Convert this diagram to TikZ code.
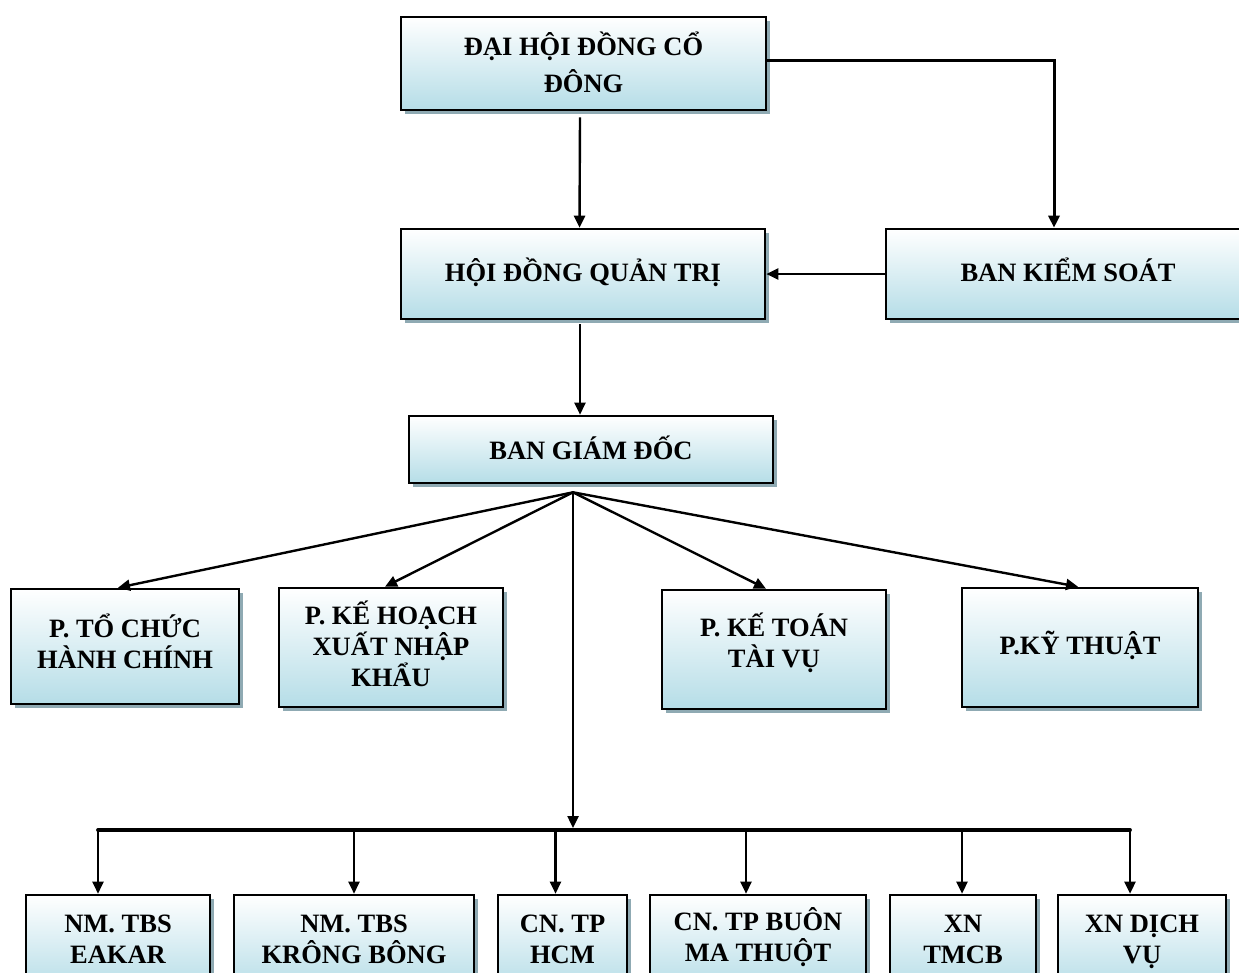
\documentclass[tikz,border=0pt]{standalone}
\usepackage{fontspec}
\setmainfont{Liberation Serif}
\usetikzlibrary{arrows.meta,shadows}
\definecolor{boxblue}{RGB}{181,221,231}
\definecolor{shadowgray}{RGB}{143,170,179}
\newcommand\lowstrut[1]{\rule{0pt}{#1pt}}
\begin{document}
\begin{tikzpicture}[x=1pt,y=-1pt,
    box/.style 2 args={draw=black,line width=2.6pt,top color=white,bottom color=boxblue,
      minimum width=#1pt,minimum height=#2pt,inner sep=0pt,align=center,
      font=\bfseries\fontsize{26.5}{31}\selectfont,
      execute at begin node={\rule{0pt}{32pt}},
      execute at end node={\rule[-18pt]{0pt}{18pt}},
      drop shadow={shadow xshift=4pt,shadow yshift=-4pt,fill=shadowgray,opacity=1}},
    arr/.style={line width=2.4pt,-{Triangle[length=12pt,width=11pt]}}]
  \useasboundingbox (0,0) rectangle (1239,972);
  \clip (0,0) rectangle (1239,972);
  \node[box={365}{91}] (dhdcd) at (583.5,63.5) {\lowstrut{38}ĐẠI HỘI ĐỒNG CỔ\\[6pt]ĐÔNG};
  \node[box={364}{90}] (hdqt) at (583,274) {HỘI ĐỒNG QUẢN TRỊ};
  \node[box={364}{90}] (bks) at (1068,274) {BAN KIỂM SOÁT};
  \node[box={364}{67}] (bgd) at (591,449.5) {\lowstrut{38}BAN GIÁM ĐỐC};
  \node[box={228}{115}] (ptchc) at (125,646.5) {\lowstrut{30}P. TỔ CHỨC\\HÀNH CHÍNH};
  \node[box={224}{119}] (pkhxnk) at (391,647.5) {\lowstrut{34}P. KẾ HOẠCH\\XUẤT NHẬP\\KHẨU};
  \node[box={224}{119}] (pkttv) at (774,649.5) {P. KẾ TOÁN\\TÀI VỤ};
  \node[box={236}{119}] (pkt) at (1080,647.5) {P.KỸ THUẬT};
  \node[box={184}{96}] (nmeakar) at (118,943) {\lowstrut{27}NM. TBS\\EAKAR};
  \node[box={240}{96}] (nmkb) at (354,943) {\lowstrut{27}NM. TBS\\KRÔNG BÔNG};
  \node[box={129}{96}] (cnhcm) at (562.5,943) {\lowstrut{27}CN. TP\\HCM};
  \node[box={216}{96}] (cnbmt) at (758,943) {CN. TP BUÔN\\MA THUỘT};
  \node[box={146}{96}] (xntmcb) at (963,943) {\lowstrut{27}XN\\TMCB};
  \node[box={168}{96}] (xndv) at (1142,943) {\lowstrut{27}XN DỊCH\\VỤ};

  \draw[arr] ([xshift=-3.5pt,yshift=-6pt]dhdcd.south) -- ([xshift=-3.5pt]hdqt.north);
  \draw[arr,line width=3pt] ([yshift=3.5pt]dhdcd.east) -| ([xshift=-14pt]bks.north);
  \draw[arr] (bks.west) -- (hdqt.east);
  \draw[arr] ([xshift=-3pt,yshift=-4pt]hdqt.south) -- ([xshift=-11pt]bgd.north);

  \coordinate (hub) at ([xshift=-18pt,yshift=-8pt]bgd.south);
  \coordinate (bus) at (0,830);
  \draw[arr] (hub) -- ([xshift=-7pt]ptchc.north);
  \draw[arr] (hub) -- ([xshift=-6pt]pkhxnk.north);
  \draw[arr] (hub) -- ([xshift=-8pt]pkttv.north);
  \draw[arr] (hub) -- ([xshift=-2pt]pkt.north);
  \draw[arr] (hub) -- ([yshift=2pt]hub |- bus);

  \coordinate (t1) at ([xshift=-20pt]nmeakar.north);
  \coordinate (t2) at (nmkb.north);
  \coordinate (t3) at ([xshift=-7pt]cnhcm.north);
  \coordinate (t4) at ([xshift=-12pt]cnbmt.north);
  \coordinate (t5) at ([xshift=-1pt]xntmcb.north);
  \coordinate (t6) at ([xshift=-12pt]xndv.north);
  \draw[line width=3.8pt,line cap=round] (t1 |- bus) -- (t6 |- bus);
  \draw[arr] (t1 |- bus) -- (t1);
  \draw[arr] (t2 |- bus) -- (t2);
  \draw[arr] (t3 |- bus) -- (t3);
  \draw[arr] (t4 |- bus) -- (t4);
  \draw[arr] (t5 |- bus) -- (t5);
  \draw[arr] (t6 |- bus) -- (t6);
\end{tikzpicture}
\end{document}
